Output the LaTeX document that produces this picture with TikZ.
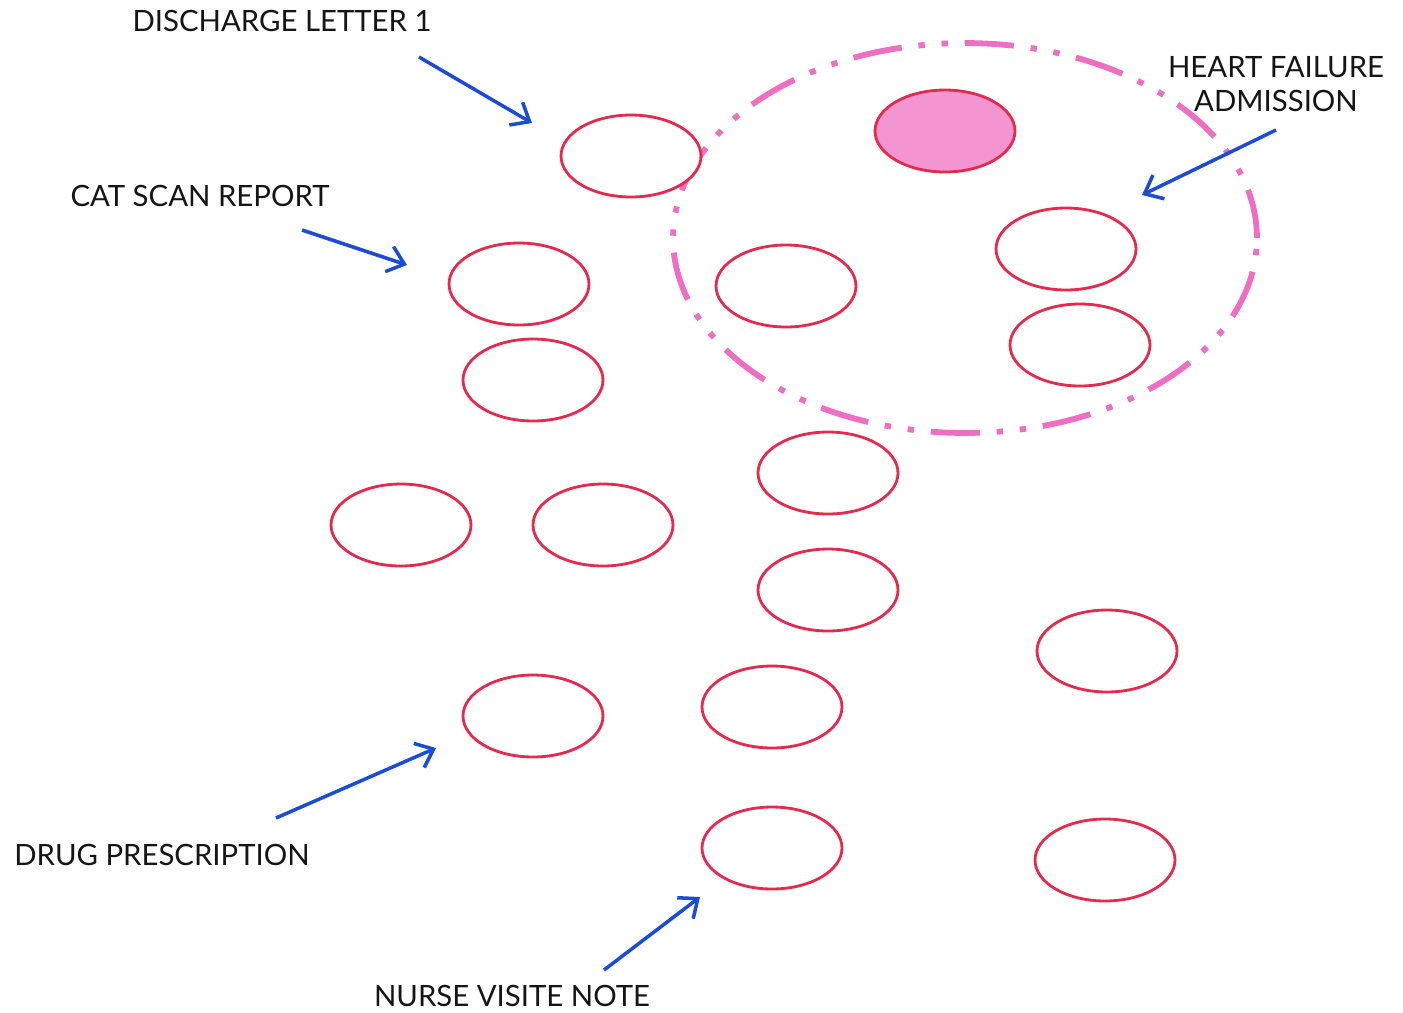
\documentclass[tikz,border=0pt]{standalone}
\usepackage{fontspec}
\setmainfont{Lato}
\usepackage{xcolor}
\usetikzlibrary{positioning,arrows.meta,shapes.geometric}
\definecolor{NoteRed}{HTML}{E52A4D}
\definecolor{NoteFill}{HTML}{F295D0}
\definecolor{GroupPink}{HTML}{EF6DC3}
\definecolor{PointBlue}{HTML}{1B4CD8}
\definecolor{LabelInk}{HTML}{151515}

\begin{document}
\begin{tikzpicture}[
  x=0.02cm,y=-0.02cm,
  every node/.style={font=\fontsize{16.7}{19.8}\selectfont,text=LabelInk,align=center},
  note/.style={ellipse,draw=NoteRed,line width=1.6pt,fill=white,minimum width=2.8cm,minimum height=1.64cm,inner sep=0pt},
  hit/.style={note,fill=NoteFill},
  group/.style={ellipse,draw=GroupPink,line width=3.3pt,minimum width=11.68cm,minimum height=7.8cm,inner sep=0pt,
    dash pattern=on 28pt off 9.6pt on 3.6pt off 9.6pt on 3.6pt off 9.6pt},
  arr/.style={-{Straight Barb[length=9pt,width=15pt,line width=2pt]},draw=PointBlue,line width=2pt}
]
  \useasboundingbox (0,0) rectangle (1403,1012);

  % patient record group
  \node[group] (hfgroup) at (965,238) {};

  % documents
  \node[note] (dl) at (631,156) {};
  \node[hit] (hfadm) at (945,131) {};
  \node[note] (cat) at (519,284) {};
  \node[note] (n4) at (786,286) {};
  \node[note] (n5) at (1066,249) {};
  \node[note] (n6) at (533,380) {};
  \node[note] (n7) at (1080,345) {};
  \node[note] (n8) at (828,473) {};
  \node[note] (n9) at (401,525) {};
  \node[note] (n10) at (603,525) {};
  \node[note] (n11) at (828,590) {};
  \node[note] (n12) at (1107,651) {};
  \node[note] (drug) at (533,716) {};
  \node[note] (n14) at (772,707) {};
  \node[note] (nurse) at (772,848) {};
  \node[note] (n16) at (1105,860) {};

  % labels
  \node (dllab) at (282,21) {DISCHARGE LETTER 1};
  \node (catlab) at (200,196) {CAT SCAN REPORT};
  \node (hflab) at (1276,84) {HEART FAILURE\\ADMISSION};
  \node (druglab) at (162,855) {DRUG PRESCRIPTION};
  \node (nurselab) at (512,996) {NURSE VISITE NOTE};

  % pointers
  \coordinate (dlfrom) at (419,57);
  \coordinate (dlto) at (532,123);
  \coordinate (catfrom) at (302,230);
  \coordinate (catto) at (407,265);
  \coordinate (hffrom) at (1276,130);
  \coordinate (hfto) at (1142,195);
  \coordinate (drugfrom) at (276,818);
  \coordinate (drugto) at (436,748);
  \coordinate (nursefrom) at (604,970);
  \coordinate (nurseto) at (700,897);

  \draw[arr] (dlfrom) -- (dlto);
  \draw[arr] (catfrom) -- (catto);
  \draw[arr] (hffrom) -- (hfto);
  \draw[arr] (drugfrom) -- (drugto);
  \draw[arr] (nursefrom) -- (nurseto);
\end{tikzpicture}
\end{document}
